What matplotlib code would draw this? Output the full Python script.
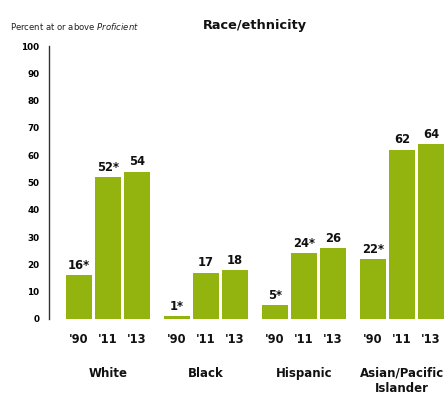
import matplotlib
matplotlib.use("Agg")
import matplotlib.pyplot as plt

groups = ["White", "Black", "Hispanic", "Asian/Pacific\nIslander"]
years = ["'90", "'11", "'13"]
values = [
    [16, 52, 54],
    [1, 17, 18],
    [5, 24, 26],
    [22, 62, 64],
]
labels = [
    ["16*", "52*", "54"],
    ["1*", "17", "18"],
    ["5*", "24*", "26"],
    ["22*", "62", "64"],
]
yticks = list(range(0, 101, 10))

GREEN = "#93b40f"
GROUP_STEP = 98
BAR_STEP = 29
BAR_W = 26

fig = plt.figure(figsize=(4.45, 3.98), dpi=100)
ax = fig.add_axes([49 / 445, 1 - 319 / 398, 396 / 445, 273 / 398])

for gi, (vals, labs) in enumerate(zip(values, labels)):
    for bi, (v, lab) in enumerate(zip(vals, labs)):
        x = gi * GROUP_STEP + bi * BAR_STEP
        ax.bar(x, v, width=BAR_W, color=GREEN, linewidth=0)
        ax.text(x, v + 1.2, lab, ha="center", va="bottom", fontsize=8.3,
                fontweight="bold", color="#111111")
        ax.text(x, -5, years[bi], ha="center", va="top", fontsize=8.3,
                fontweight="bold", color="#111111")
    cx = gi * GROUP_STEP + BAR_STEP
    ax.text(cx, -17.5, groups[gi], ha="center", va="top", fontsize=8.5,
            fontweight="bold", color="#111111", linespacing=1.2)

ax.set_xlim(-30, 366)
ax.set_ylim(0, 100)
ax.set_yticks(yticks)
ax.set_yticklabels([str(t) for t in yticks], fontsize=6.3, fontweight="bold")
ax.tick_params(axis="y", length=0, pad=7)
ax.set_xticks([])
for s in ["top", "right", "bottom"]:
    ax.spines[s].set_visible(False)
ax.spines["left"].set_color("#333333")
ax.spines["left"].set_linewidth(1)

fig.text(10 / 445, 1 - 27 / 398, "Percent at or above $\\it{Proficient}$",
         fontsize=6.1, va="center", ha="left", color="#222222")
fig.text(255 / 445, 1 - 25 / 398, "Race/ethnicity", fontsize=9.3,
         fontweight="bold", ha="center", va="center", color="#111111")

fig.savefig("out.png", dpi=100)
